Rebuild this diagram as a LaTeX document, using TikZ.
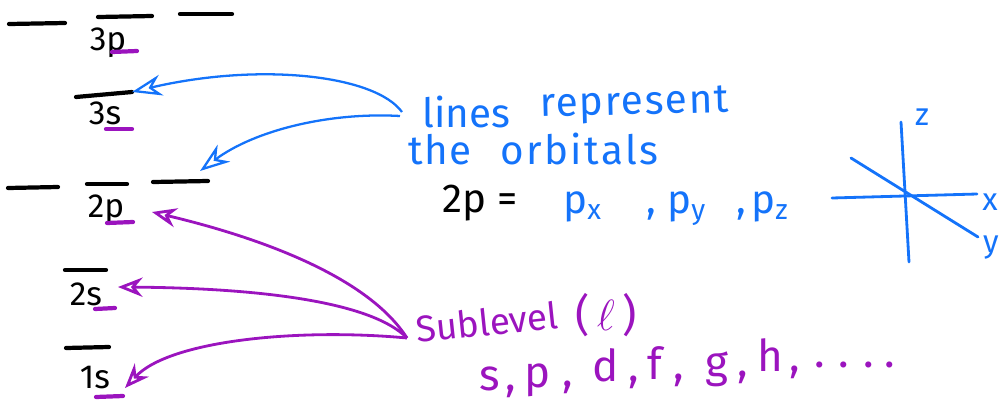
\documentclass[tikz,border=0pt]{standalone}
\usepackage{fontspec}
\setmainfont{Fira Sans}
\newfontfamily\handwide[LetterSpace=4]{Fira Sans}
\usetikzlibrary{arrows.meta}
\definecolor{hblue}{RGB}{20,115,250}
\definecolor{hpurple}{RGB}{155,20,190}
\begin{document}
\begin{tikzpicture}[x=0.02cm,y=-0.02cm,
  orb/.style={line width=2.4pt,line cap=round},
  subline/.style={line width=2.4pt,line cap=round,draw=hpurple},
  lvl/.style={inner sep=0pt,font=\fontsize{19}{19}\selectfont},
  btext/.style={inner sep=0pt,text=hblue,font=\fontsize{23}{26}\selectfont,anchor=base west},
  bwide/.style={inner sep=0pt,text=hblue,font=\handwide\fontsize{23}{26}\selectfont,anchor=base west},
  ptext/.style={inner sep=0pt,text=hpurple,font=\fontsize{21}{24}\selectfont,anchor=base west},
  ltext/.style={inner sep=0pt,text=hpurple,font=\fontsize{25}{26}\selectfont,anchor=base},
  lcomma/.style={inner sep=0pt,text=hpurple,font=\fontsize{25}{26}\selectfont,anchor=base west},
  axlbl/.style={inner sep=0pt,text=hblue,font=\fontsize{18}{18}\selectfont},
  barrow/.style={draw=hblue,line width=1.3pt,-{Stealth[open,length=17pt,width=12pt]}},
  parrow/.style={draw=hpurple,line width=1.6pt,-{Stealth[open,length=14pt,width=11pt]}},
  axis/.style={draw=hblue,line width=1.6pt,line cap=round}]
\useasboundingbox (0,0) rectangle (1005,413);
% orbital lines
\draw[orb] (9,24) -- (65,23);
\draw[orb] (98,17) -- (152,16);
\draw[orb] (180,14) -- (232,14);
\draw[orb] (76,97) -- (132,92) coordinate (o3s);
\draw[orb] (8,188) -- (58,187);
\draw[orb] (87,184) -- (127,184);
\draw[orb] (153,182) -- (208,181);
\draw[orb] (65,270) -- (106,270);
\draw[orb] (66,348) -- (109,347);
% level labels
\node[lvl] (l3p) at (108,43) {3p};
\node[lvl] (l3s) at (105,113) {3s};
\node[lvl] (l2p) at (106,210) {2p};
\node[lvl] (l2s) at (86,294) {2s};
\node[lvl] (l1s) at (95,378) {1s};
% purple underlines
\draw[subline] (112,52) -- (137,51);
\draw[subline] (106,129) -- (132,129);
\draw[subline] (107,223) -- (133,222);
\draw[subline] (95,309) -- (115,308);
\draw[subline] (96,397) -- (123,396);
% blue text
\node[btext] (wlines) at (422,127) {lines};
\node[bwide,rotate=1.5] (wrep) at (540,117) {represent};
\node[bwide] (wthe) at (408,164) {the};
\node[bwide,font=\handwide\fontsize{23}{26}\selectfont\addfontfeature{LetterSpace=6}] (worb) at (500,164) {orbitals};
\node[inner sep=0pt,anchor=base west,font=\fontsize{23}{26}\selectfont] (twop) at (442,212) {2p =};
\node[btext] (px) at (563,213) {p\textsubscript{x}};
\node[btext] (c1) at (646,213) {,};
\node[btext] (py) at (667,213) {p\textsubscript{y}};
\node[btext] (c2) at (736,213) {,};
\node[btext] (pz) at (751,213) {p\textsubscript{z}};
% axes
\draw[axis] (901,122) -- (909,262);
\draw[axis] (832,198) -- (977,194);
\draw[axis] (851,158) -- (978,237);
\node[axlbl] (az) at (922,117) {z};
\node[axlbl] (ax) at (990,202) {x};
\node[axlbl] (ay) at (991,248) {y};
% purple text
\node[ptext,rotate=6] (sub) at (417,343) {Sublevel};
\node[lcomma] (ell) at (575,330) {(\,$\ell$\,)};
\node[ltext] (ls) at (490,390) {s};
\node[lcomma] (lsc) at (505,390) {,};
\node[ltext] (lp) at (538,387) {p};
\node[lcomma] (lpc) at (562,386) {,};
\node[ltext] (ld) at (606,381) {d};
\node[lcomma] (ldc) at (628,381) {,};
\node[ltext] (lf) at (655,379) {f};
\node[lcomma] (lfc) at (673,379) {,};
\node[ltext] (lg) at (717,377) {g};
\node[lcomma] (lgc) at (737,376) {,};
\node[ltext] (lh) at (770,371) {h};
\node[lcomma] (lhc) at (789,371) {,};
\node[lcomma] (ldots) at (814,367) {.\hspace{8pt}.\hspace{8pt}.\hspace{6pt}.};
% arrow endpoints
\coordinate (bs1) at (402,112);
\coordinate (bs2) at (400,116);
\coordinate (t2p) at (200,171);
\coordinate (ps) at (407,338);
\coordinate (p2p) at (152,212);
\coordinate (p2s) at (118,287);
\coordinate (p1s) at (125,388);
% blue arrows
\draw[barrow] (bs1) .. controls (375,75) and (260,62) .. (o3s);
\draw[barrow] (bs2) .. controls (330,112) and (255,130) .. (t2p);
% purple arrows
\draw[parrow] (ps) .. controls (370,280) and (270,240) .. (p2p);
\draw[parrow] (ps) .. controls (370,300) and (250,288) .. (p2s);
\draw[parrow] (ps) .. controls (300,328) and (170,340) .. (p1s);
\end{tikzpicture}
\end{document}
